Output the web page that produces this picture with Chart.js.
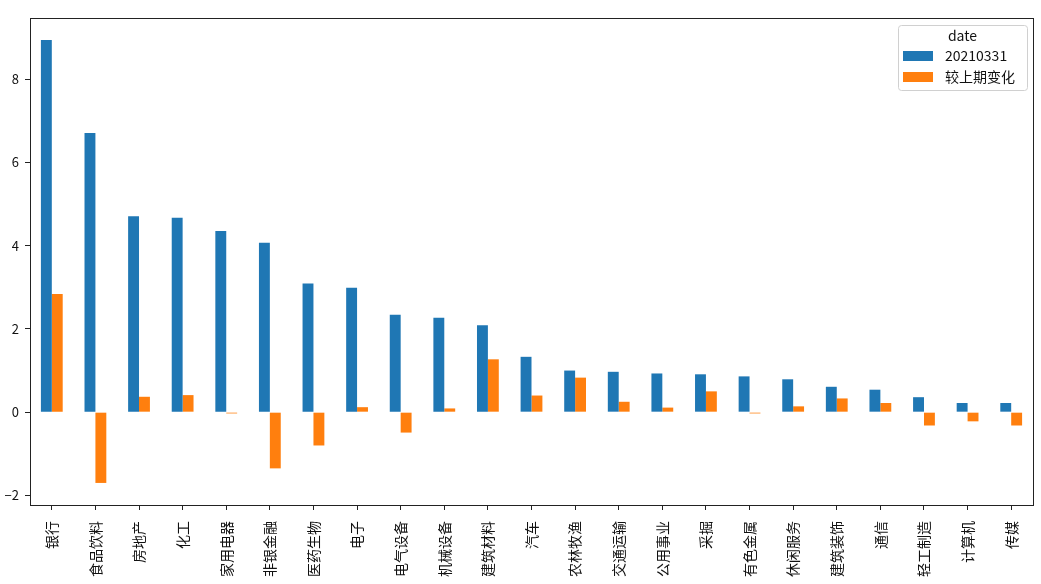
<!DOCTYPE html>
<html>
<head>
<meta charset="utf-8">
<script src="https://cdn.jsdelivr.net/npm/chart.js@4/dist/chart.umd.min.js"></script>
<style>
    html, body { margin: 0; padding: 0; background: #fff; }
    #wrap { width: 1041px; height: 584px; position: relative; }
</style>
</head>
<body>
<div id="wrap"><canvas id="chart"></canvas></div>
<script>
// industries, sorted by the 20210331 value
const categories = ['银行', '食品饮料', '房地产', '化工', '家用电器', '非银金融', '医药生物', '电子',
    '电气设备', '机械设备', '建筑材料', '汽车', '农林牧渔', '交通运输', '公用事业', '采掘',
    '有色金属', '休闲服务', '建筑装饰', '通信', '轻工制造', '计算机', '传媒'];
const values20210331 = [8.94, 6.71, 4.71, 4.67, 4.35, 4.07, 3.09, 2.99, 2.34, 2.27, 2.09, 1.33,
    1.00, 0.97, 0.93, 0.91, 0.86, 0.79, 0.61, 0.54, 0.36, 0.22, 0.22];
const valuesChange = [2.84, -1.70, 0.37, 0.41, -0.03, -1.35, -0.80, 0.12, -0.49, 0.09, 1.27, 0.40,
    0.83, 0.25, 0.11, 0.50, -0.03, 0.14, 0.33, 0.22, -0.32, -0.22, -0.32];
const seriesNames = ['20210331', '较上期变化'];
const legendTitle = 'date';
const yTicks = [-2, 0, 2, 4, 6, 8];

const blue = '#1f77b4';
const orange = '#ff7f0e';
const textColor = '#111';
const cjkFont = '"Noto Sans CJK SC", "Noto Sans", sans-serif';

// matplotlib style frame around the plot area
const framePlugin = {
    id: 'frame',
    afterDraw(chart) {
        const a = chart.chartArea;
        const ctx = chart.ctx;
        ctx.save();
        ctx.strokeStyle = '#222';
        ctx.lineWidth = 1;
        ctx.strokeRect(Math.round(a.left) + 0.5, Math.round(a.top) + 0.5,
            Math.round(a.right - a.left), Math.round(a.bottom - a.top));
        ctx.restore();
    }
};

// legend box in the upper right corner, with a title
const boxLegendPlugin = {
    id: 'boxLegend',
    afterDraw(chart) {
        const a = chart.chartArea;
        const ctx = chart.ctx;
        ctx.save();
        ctx.font = '14px ' + cjkFont;
        let textW = 0;
        chart.data.datasets.forEach(ds => {
            textW = Math.max(textW, ctx.measureText(ds.label).width);
        });
        const w = 5 + 30 + 12 + textW + 12;
        const h = 65;
        const right = a.right - 6;
        const top = a.top + 7;
        const left = right - w;

        ctx.fillStyle = 'rgba(255,255,255,0.8)';
        ctx.strokeStyle = '#d0d0d0';
        ctx.lineWidth = 1;
        ctx.beginPath();
        ctx.roundRect(Math.round(left) + 0.5, top + 0.5, Math.round(w), h, 3);
        ctx.fill();
        ctx.stroke();

        ctx.fillStyle = textColor;
        ctx.textBaseline = 'middle';
        ctx.textAlign = 'center';
        ctx.fillText(legendTitle, left + w / 2, top + 11);

        ctx.textAlign = 'left';
        chart.data.datasets.forEach((ds, i) => {
            const cy = top + 31 + i * 21;
            ctx.fillStyle = ds.backgroundColor;
            ctx.fillRect(left + 5, cy - 5, 30, 10);
            ctx.fillStyle = textColor;
            ctx.fillText(ds.label, left + 47, cy);
        });
        ctx.restore();
    }
};

const ctx = document.getElementById('chart').getContext('2d');
new Chart(ctx, {
    type: 'bar',
    data: {
        labels: categories,
        datasets: [{
            label: seriesNames[0],
            data: values20210331,
            backgroundColor: blue,
            categoryPercentage: 0.5,
            barPercentage: 1.0
        }, {
            label: seriesNames[1],
            data: valuesChange,
            backgroundColor: orange,
            categoryPercentage: 0.5,
            barPercentage: 1.0
        }]
    },
    options: {
        responsive: true,
        maintainAspectRatio: false,
        animation: false,
        layout: { padding: { left: 0, top: 18, right: 8, bottom: 0 } },
        plugins: {
            legend: { display: false },
            tooltip: { enabled: false }
        },
        scales: {
            x: {
                offset: true,
                grid: { drawOnChartArea: false, drawTicks: true, tickLength: 5, color: '#222', offset: false },
                border: { display: true, color: '#222' },
                ticks: {
                    color: textColor,
                    font: { family: cjkFont, size: 14 },
                    maxRotation: 90,
                    minRotation: 90,
                    autoSkip: false,
                    padding: 11
                },
                afterFit(scale) { scale.height = 79; }
            },
            y: {
                min: -2.23,
                max: 9.47,
                grid: { drawOnChartArea: false, drawTicks: true, tickLength: 5, color: '#222' },
                border: { display: true, color: '#222' },
                ticks: {
                    color: textColor,
                    font: { family: cjkFont, size: 13 },
                    padding: 6,
                    callback: v => v < 0 ? '\u2212' + Math.abs(v) : String(v)
                },
                afterBuildTicks(scale) {
                    scale.ticks = yTicks.map(v => ({ value: v }));
                },
                afterFit(scale) { scale.width = 30; }
            }
        }
    },
    plugins: [framePlugin, boxLegendPlugin]
});
</script>
</body>
</html>
